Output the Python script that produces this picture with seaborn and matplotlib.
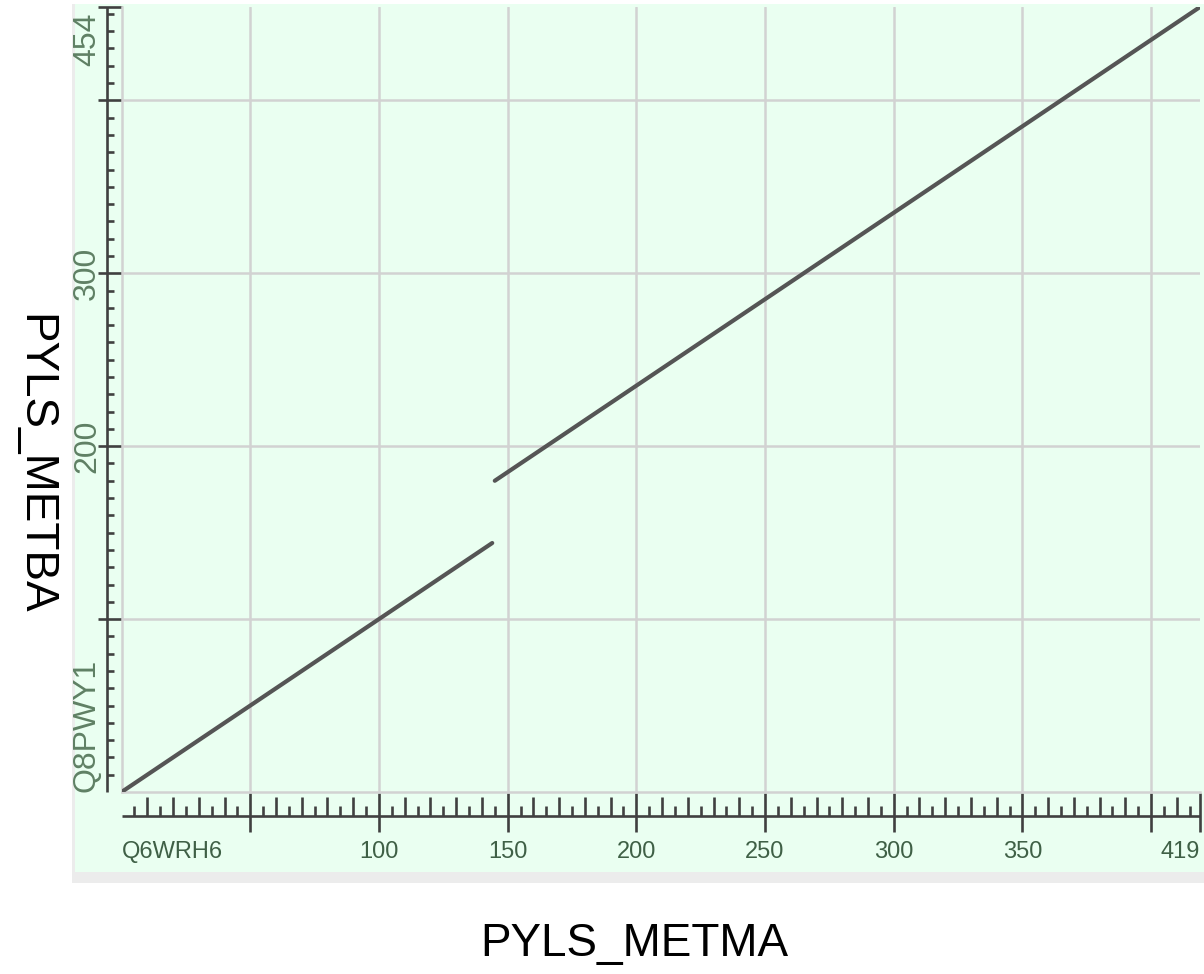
import numpy as np
import pandas as pd
import matplotlib
matplotlib.use("Agg")
import matplotlib.pyplot as plt
import matplotlib.transforms as mtransforms
from matplotlib.patches import Rectangle
from matplotlib import font_manager
import seaborn as sns

# ---- data ----
seq_x_name = "Q6WRH6"
seq_y_name = "Q8PWY1"
x_len = 419
y_len = 454
seg1_x = [0, 144]
seg1_y = [0, 144]
seg2_x = [145, 419]
seg2_y = [180, 454]
x_tick_labels = [100, 150, 200, 250, 300, 350]
y_tick_labels = [200, 300]
x_title = "PYLS_METMA"
y_title = "PYLS_METBA"

df = pd.DataFrame({
    "x": seg1_x + seg2_x,
    "y": seg1_y + seg2_y,
    "seg": ["a"] * len(seg1_x) + ["b"] * len(seg2_x),
})

sns.set_style("white")
try:
    font_manager.findfont(font_manager.FontProperties(family="Liberation Sans Narrow"),
                          fallback_to_default=False)
    narrow = "Liberation Sans Narrow"
    xsize = 22
except Exception:
    narrow = "Liberation Sans"
    xsize = 17
plt.rcParams["font.family"] = ["Liberation Sans", "DejaVu Sans"]

W, H = 1204, 974
fig = plt.figure(figsize=(W / 100, H / 100), dpi=100)

def fx(px):
    return px / W

def fy(py):
    return (H - py) / H

# framed picture background
fig.add_artist(Rectangle((fx(72), fy(883)), fx(1204) - fx(72), fy(4) - fy(883),
                         transform=fig.transFigure, facecolor="#ececec",
                         edgecolor="none", zorder=-10))
fig.add_artist(Rectangle((fx(75), fy(872)), fx(1204) - fx(75), fy(4) - fy(872),
                         transform=fig.transFigure, facecolor="#eafff1",
                         edgecolor="none", zorder=-9))

# plot area: x 0 -> 121.6px, 419 -> 1200px ; y 0 -> 792px, 454 -> 7px
x0p, x1p, y0p, y1p = 121.6, 1200.0, 792.0, 7.0
ax = fig.add_axes([fx(x0p), fy(y0p), fx(x1p) - fx(x0p), fy(y1p) - fy(y0p)])
ax.patch.set_visible(False)
ax.set_xlim(0, x_len)
ax.set_ylim(0, y_len)

# grid
for v in np.arange(50, x_len, 50):
    ax.axvline(v, color="#d2d2d2", lw=1.8, zorder=1)
for h in np.arange(100, y_len, 100):
    ax.axhline(h, color="#d2d2d2", lw=1.8, zorder=1)
for s in ["top", "right"]:
    ax.spines[s].set_visible(False)
for s in ["left", "bottom"]:
    ax.spines[s].set_color("#d2d2d2")
    ax.spines[s].set_linewidth(1.8)

sns.lineplot(data=df, x="x", y="y", units="seg", estimator=None, ax=ax,
             color="#555555", lw=3.0, zorder=3, legend=False)
ax.set_xlabel("")
ax.set_ylabel("")
ax.set_xticks([])
ax.set_yticks([])

axw = x1p - x0p
axh = y0p - y1p

def xa(px):
    return (px - x0p) / axw

def ya(py):
    return (y0p - py) / axh

tx = mtransforms.blended_transform_factory(ax.transData, ax.transAxes)
ty = mtransforms.blended_transform_factory(ax.transAxes, ax.transData)
rc = "#404040"
tlw = 1.9

# x ruler
ax.plot([0, x_len], [ya(816), ya(816)], transform=tx, color=rc, lw=tlw, clip_on=False,
        solid_capstyle="butt")
xs5 = [v for v in np.arange(5, x_len, 10)]
xs10 = [v for v in np.arange(10, x_len, 10) if v % 50 != 0]
xs50 = list(np.arange(50, x_len, 50)) + [x_len]
ax.vlines(xs5, ya(816), ya(806), transform=tx, color=rc, lw=tlw, clip_on=False)
ax.vlines(xs10, ya(816), ya(797), transform=tx, color=rc, lw=tlw, clip_on=False)
ax.vlines(xs50, ya(832), ya(793), transform=tx, color=rc, lw=tlw, clip_on=False)

# y ruler
ax.plot([xa(107), xa(107)], [0, y_len], transform=ty, color=rc, lw=tlw, clip_on=False,
        solid_capstyle="butt")
ys10 = [v for v in np.arange(10, y_len, 10) if v % 100 != 0]
ys100 = list(np.arange(100, y_len, 100)) + [y_len]
ax.hlines(ys10, xa(107), xa(114), transform=ty, color=rc, lw=tlw, clip_on=False)
ax.hlines(ys100, xa(98), xa(122), transform=ty, color=rc, lw=tlw, clip_on=False)

# x tick labels
xc = "#3f6046"
ylab = ya(852)
ax.text(0, ylab, seq_x_name, transform=tx, ha="left", va="center",
        fontsize=xsize, color=xc, family=narrow)
for v in x_tick_labels:
    ax.text(v, ylab, str(v), transform=tx, ha="center", va="center",
            fontsize=xsize, color=xc, family=narrow)
ax.text(x_len, ylab, str(x_len), transform=tx, ha="right", va="center",
        fontsize=xsize, color=xc, family=narrow)

# y tick labels (rotated)
yc = "#5f8064"
xlab = xa(87)
ysize = 23
ax.text(xlab, 0, seq_y_name, transform=ty, ha="center", va="bottom", rotation=90,
        fontsize=ysize, color=yc)
for v in y_tick_labels:
    ax.text(xlab, v, str(v), transform=ty, ha="center", va="center", rotation=90,
            fontsize=ysize, color=yc)
ax.text(xlab, y_len - 3, str(y_len), transform=ty, ha="center", va="top", rotation=90,
        fontsize=ysize, color=yc)

# axis titles
fig.text(fx(634), fy(944), x_title, ha="center", va="center", fontsize=33, color="black")
fig.text(fx(34), fy(464), y_title, ha="center", va="center", fontsize=33, color="black",
         rotation=270)

fig.savefig("out.png", dpi=100)
